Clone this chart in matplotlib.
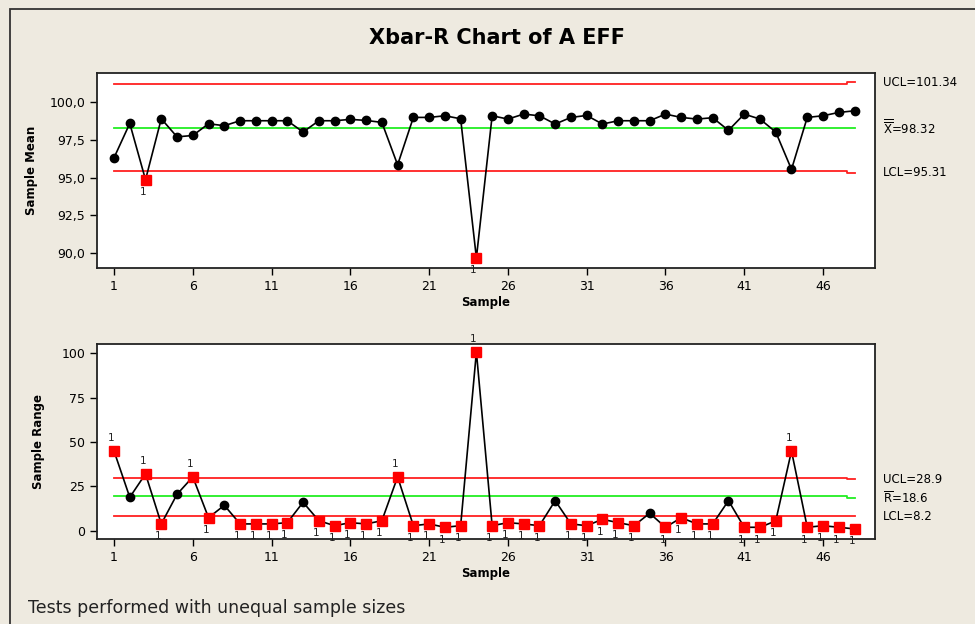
import numpy as np
import matplotlib.pyplot as plt
from matplotlib.patches import Rectangle
from matplotlib.ticker import FuncFormatter

# sample means (Xbar) and ranges (R), 48 subgroups
xbar = [96.32, 98.60, 94.86, 98.91, 97.71, 97.80, 98.58, 98.45, 98.78, 98.78,
        98.78, 98.78, 98.03, 98.78, 98.78, 98.87, 98.80, 98.67, 95.85, 99.00,
        99.00, 99.11, 98.91, 89.67, 99.11, 98.89, 99.22, 99.11, 98.56, 99.00,
        99.13, 98.56, 98.78, 98.78, 98.78, 99.22, 99.00, 98.89, 98.98, 98.14,
        99.22, 98.89, 98.03, 95.55, 99.00, 99.11, 99.33, 99.44]
rng = [44.9, 18.8, 32.0, 3.8, 20.5, 30.3, 7.3, 14.3, 3.8, 3.8,
       3.8, 4.5, 16.0, 5.6, 2.8, 4.5, 3.8, 5.6, 30.3, 2.8,
       3.8, 1.9, 2.8, 100.7, 2.8, 4.5, 3.8, 2.8, 16.9, 3.8,
       2.8, 6.4, 4.5, 2.8, 9.8, 1.9, 7.3, 3.8, 3.8, 16.9,
       1.9, 1.9, 5.5, 44.9, 1.9, 2.8, 1.9, 1.0]

# control limits: the last subgroup has a different size
x_ucl = [101.22] * 47 + [101.34]
x_cl = [98.32] * 48
x_lcl = [95.42] * 47 + [95.31]
r_ucl = [29.4] * 47 + [28.9]
r_cl = [19.4] * 47 + [18.6]
r_lcl = [8.5] * 47 + [8.2]

x_labels = ["UCL=101.34", r"$\overline{\overline{\mathrm{X}}}$=98.32", "LCL=95.31"]
r_labels = ["UCL=28.9", r"$\overline{\mathrm{R}}$=18.6", "LCL=8.2"]

samples = np.arange(1, len(xbar) + 1)
BG = '#eeeae0'

plt.rcParams['font.family'] = ['DejaVu Sans']
plt.rcParams['mathtext.fontset'] = 'dejavusans'
fig = plt.figure(figsize=(9.75, 6.24), dpi=100, facecolor=BG)
W, H = 975, 624

# outer frame of the graph window
fig.patches.append(Rectangle((10 / W, -0.1), 1.2, 1 - 9 / H + 0.1, transform=fig.transFigure,
                             fill=False, edgecolor='#333333', linewidth=1.3))

fig.text(497 / W, 1 - 38 / H, "Xbar-R Chart of A EFF", ha='center', va='center',
         fontsize=15, fontweight='bold')
fig.text(28 / W, 1 - 608 / H, "Tests performed with unequal sample sizes", ha='left', va='center',
         fontsize=12.5, color='#222222')

def make_ax(top, bottom):
    ax = fig.add_axes([97 / W, 1 - bottom / H, (875 - 97) / W, (bottom - top) / H])
    ax.set_facecolor('white')
    for s in ax.spines.values():
        s.set_linewidth(1.3)
        s.set_color('#222222')
    ax.set_xlim(-0.08, 49.3)
    ax.set_xticks(np.arange(1, 48, 5))
    ax.tick_params(direction='out', length=5, width=1, labelsize=9)
    ax.set_xlabel("Sample", fontsize=8.5, fontweight='bold', labelpad=2)
    return ax

def draw(ax, y, ucl, cl, lcl, labels):
    ax.plot(samples, ucl, color='#ff2020', lw=1.3, drawstyle='steps-mid')
    ax.plot(samples, lcl, color='#ff2020', lw=1.3, drawstyle='steps-mid')
    ax.plot(samples, cl, color='#22ee22', lw=1.3, drawstyle='steps-mid')
    ax.plot(samples, y, color='black', lw=1.2, zorder=3)
    y = np.array(y)
    out_hi = y > np.array(ucl)
    out_lo = y < np.array(lcl)
    out = out_hi | out_lo
    ax.plot(samples[~out], y[~out], 'o', color='black', ms=6, zorder=4)
    ax.plot(samples[out], y[out], 's', color='#ff0000', ms=6.5, zorder=4)
    for i in np.where(out)[0]:
        dy = 9 if out_hi[i] else -9
        ax.annotate("1", (samples[i], y[i]), xytext=(-2, dy), textcoords='offset points',
                    ha='center', va='center', fontsize=7.5, color='#222222', zorder=5)
    for txt, val in zip(labels, [ucl[-1], cl[-1], lcl[-1]]):
        ax.annotate(txt, (1.0, val), xycoords=('axes fraction', 'data'), xytext=(6, 0),
                    textcoords='offset points', ha='left', va='center', fontsize=8.5,
                    annotation_clip=False)

ax1 = make_ax(73, 268)
ax1.set_ylim(89.0, 101.95)
ax1.set_yticks([90, 92.5, 95, 97.5, 100])
ax1.yaxis.set_major_formatter(FuncFormatter(lambda v, p: f"{v:.1f}".replace('.', ',')))
ax1.set_ylabel("Sample Mean", fontsize=8.5, fontweight='bold', labelpad=8)
draw(ax1, xbar, x_ucl, x_cl, x_lcl, x_labels)

ax2 = make_ax(344, 539)
ax2.set_ylim(-4.7, 105.2)
ax2.set_yticks([0, 25, 50, 75, 100])
ax2.set_ylabel("Sample Range", fontsize=8.5, fontweight='bold', labelpad=12)
draw(ax2, rng, r_ucl, r_cl, r_lcl, r_labels)

fig.savefig("out.png", dpi=100, facecolor=BG)
